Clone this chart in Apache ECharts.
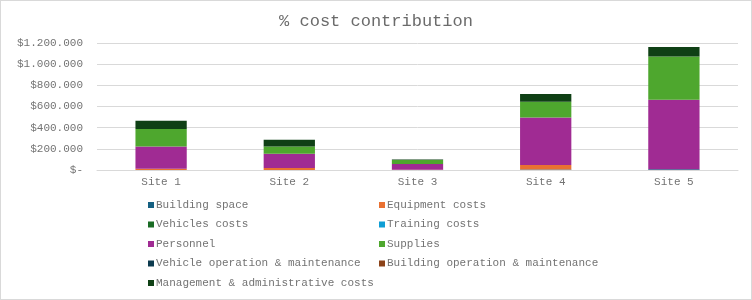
<!DOCTYPE html>
<html>
<head>
<meta charset="utf-8">
<script src="https://cdn.jsdelivr.net/npm/echarts@6/dist/echarts.min.js"></script>
<style>
  html, body { margin: 0; padding: 0; background: #fff; }
  #chart { width: 750px; height: 298px; border: 1px solid #d9d9d9; }
</style>
</head>
<body>
<div id="chart"></div>
<script>
// data
var sites = ['Site 1', 'Site 2', 'Site 3', 'Site 4', 'Site 5'];
var buildingSpace = [0, 0, 0, 5000, 8000];
var equipmentCosts = [12000, 18000, 3000, 42000, 0];
var vehiclesCosts = [0, 0, 0, 0, 0];
var trainingCosts = [0, 0, 0, 0, 0];
var personnel = [211000, 136000, 54000, 450000, 656000];
var supplies = [164000, 69000, 38000, 148000, 409000];
var vehicleOperation = [0, 0, 0, 0, 0];
var buildingOperation = [0, 0, 0, 0, 0];
var management = [79000, 63000, 5000, 73000, 89000];

var seriesNames = [
    'Building space', 'Equipment costs', 'Vehicles costs', 'Training costs', 'Personnel',
    'Supplies', 'Vehicle operation & maintenance', 'Building operation & maintenance',
    'Management & administrative costs'
];
var seriesData = [buildingSpace, equipmentCosts, vehiclesCosts, trainingCosts, personnel,
    supplies, vehicleOperation, buildingOperation, management];
var colors = ['#156082', '#e97132', '#196b24', '#0f9ed5', '#a02b93',
    '#4ea72e', '#0c3a4e', '#8c4319', '#0f4015'];

var font = '"Liberation Mono", "DejaVu Sans Mono", monospace';
var textColor = '#737373';

var chart = echarts.init(document.getElementById('chart'));

function legendOf(names, left) {
    return {
        orient: 'vertical',
        left: left,
        top: 198,
        itemWidth: 6,
        itemHeight: 6,
        itemGap: 7.5,
        icon: 'rect',
        padding: 0,
        data: names,
        textStyle: {
            fontFamily: font,
            fontSize: 11,
            lineHeight: 12,
            color: textColor,
            padding: [0, 0, 0, -3]
        }
    };
}

var option = {
    animation: false,
    color: colors,
    title: {
        text: '% cost contribution',
        left: 'center',
        top: 7,
        textStyle: {
            fontFamily: font,
            fontSize: 17,
            fontWeight: 'normal',
            color: '#6b6b6b'
        }
    },
    legend: [
        legendOf([seriesNames[0], seriesNames[2], seriesNames[4], seriesNames[6], seriesNames[8]], 147),
        legendOf([seriesNames[1], seriesNames[3], seriesNames[5], seriesNames[7]], 378)
    ],
    grid: {
        left: 96,
        right: 13,
        top: 42,
        bottom: 129,
        containLabel: false
    },
    xAxis: {
        type: 'category',
        data: sites,
        axisTick: { show: false },
        axisLine: { lineStyle: { color: '#d9d9d9' } },
        axisLabel: {
            fontFamily: font,
            fontSize: 11,
            color: textColor,
            margin: 7
        }
    },
    yAxis: {
        type: 'value',
        min: 0,
        max: 1200000,
        interval: 200000,
        axisLine: { show: false },
        axisTick: { show: false },
        splitLine: { lineStyle: { color: '#d9d9d9' } },
        axisLabel: {
            fontFamily: font,
            fontSize: 11,
            color: textColor,
            margin: 14,
            formatter: function (v) {
                if (v === 0) return '$-';
                return '$' + String(v).replace(/\B(?=(\d{3})+(?!\d))/g, '.');
            }
        }
    },
    series: seriesNames.map(function (name, i) {
        return {
            name: name,
            type: 'bar',
            stack: 'cost',
            barWidth: '40%',
            data: seriesData[i]
        };
    })
};

chart.setOption(option);
</script>
</body>
</html>
